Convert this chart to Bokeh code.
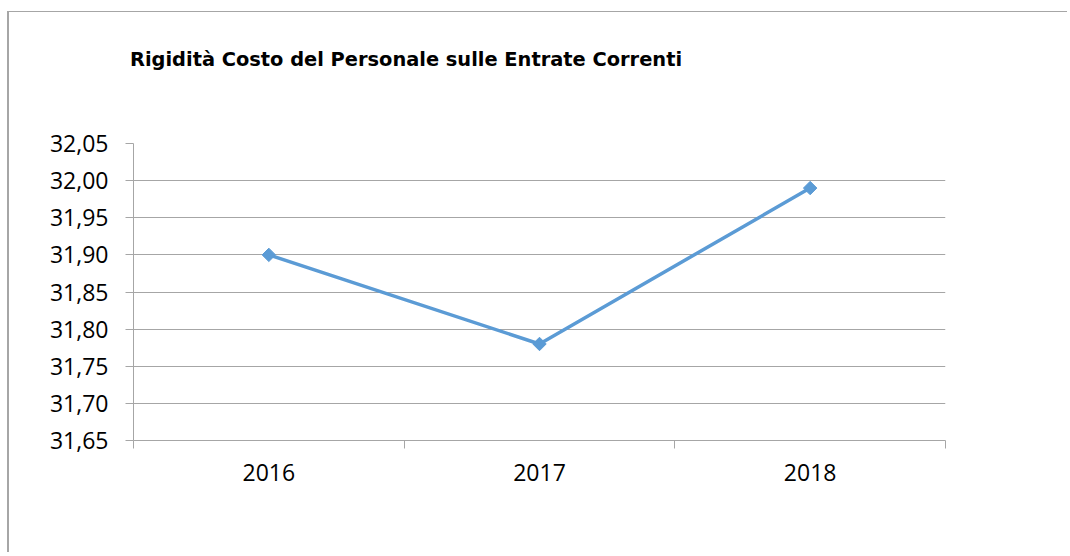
import math
from bokeh.plotting import figure
from bokeh.layouts import column
from bokeh.models import Range1d, FixedTicker, CustomJSTickFormatter, Div
from bokeh.embed import file_html
from bokeh.resources import INLINE

title = "Rigidità Costo del Personale sulle Entrate Correnti"
years = ["2016", "2017", "2018"]
values = [31.90, 31.78, 31.99]
y_ticks = [31.65, 31.70, 31.75, 31.80, 31.85, 31.90, 31.95, 32.00, 32.05]

GRID = "#A6A6A6"
BLUE = "#5B9BD5"
FONT = "Open Sans"

W, H = 1058, 474
p = figure(width=W, height=H, output_backend="svg", toolbar_location=None,
           x_range=Range1d(0, len(years)), y_range=Range1d(y_ticks[0], y_ticks[-1]),
           min_border_left=124, min_border_right=122, min_border_top=65, min_border_bottom=112,
           margin=(0, 0, 0, 0))
p.outline_line_color = None
p.background_fill_color = "white"
p.border_fill_color = "white"

xs = [i + 0.5 for i in range(len(years))]
p.line(xs, values, line_color=BLUE, line_width=3.5)
p.scatter(xs, values, marker="square", angle=math.pi / 4, size=9.5,
          fill_color=BLUE, line_color=BLUE)

# x axis
xa = p.xaxis[0]
xa.ticker = FixedTicker(ticks=xs, minor_ticks=list(range(len(years) + 1)))
xa.major_label_overrides = {x: y for x, y in zip(xs, years)}
xa.major_tick_out = 0
xa.major_tick_in = 0
xa.minor_tick_out = 8
xa.minor_tick_in = 0
xa.minor_tick_line_color = GRID
xa.axis_line_color = GRID
xa.major_label_text_font = FONT
xa.major_label_text_font_size = "23px"
xa.major_label_text_color = "black"
xa.major_label_standoff = 15

ya = p.yaxis[0]
ya.ticker = FixedTicker(ticks=y_ticks)
ya.formatter = CustomJSTickFormatter(code="return tick.toFixed(2).replace('.', ',');")
ya.major_tick_out = 8
ya.major_tick_in = 0
ya.minor_tick_out = 0
ya.minor_tick_in = 0
ya.major_tick_line_color = GRID
ya.axis_line_color = GRID
ya.major_label_text_font = FONT
ya.major_label_text_font_size = "23px"
ya.major_label_text_color = "black"
ya.major_label_standoff = 17

p.xgrid.visible = False
p.ygrid.ticker = FixedTicker(ticks=y_ticks[1:])
p.ygrid.grid_line_color = GRID
p.ygrid.grid_line_width = 1

head = Div(text=title, width=700, height=30, margin=(36, 0, 0, 121),
           styles={"font-family": "'DejaVu Sans'", "font-weight": "bold",
                   "font-size": "19.4px", "line-height": "24px", "color": "black",
                   "white-space": "nowrap"})

page = column(head, p, margin=(11, 0, 0, 7), spacing=0,
              styles={"border-left": "2px solid #A6A6A6", "border-top": "1px solid #A6A6A6"})

open("out.html", "w").write(file_html(page, INLINE))
